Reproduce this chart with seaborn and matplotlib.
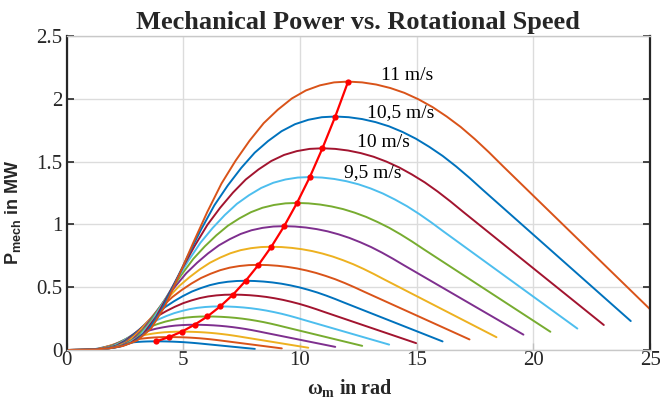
import numpy as np
import pandas as pd
import matplotlib
matplotlib.use("Agg")
import matplotlib.pyplot as plt
import seaborn as sns

# ---- data ----
wind_speeds = [3.5, 4.0, 4.5, 5.0, 5.5, 6.0, 6.5, 7.0, 7.5, 8.0, 8.5, 9.0, 9.5, 10.0, 10.5, 11.0]
peak_omega = [3.84, 4.39, 4.93, 5.48, 6.03, 6.58, 7.13, 7.67, 8.22, 8.77, 9.32, 9.87, 10.42, 10.96, 11.51, 12.06]
peak_power = [0.069, 0.103, 0.146, 0.201, 0.267, 0.347, 0.441, 0.551, 0.678, 0.822, 0.986, 1.171, 1.377, 1.606, 1.859, 2.137]

# common curve shape (omega / omega_peak , P / P_peak)
shape_ratio = [0.00, 0.10, 0.15, 0.20, 0.25, 0.30, 0.35, 0.40, 0.45, 0.50, 0.55, 0.60, 0.65, 0.70,
               0.75, 0.80, 0.85, 0.90, 0.95, 1.00, 1.05, 1.10, 1.15, 1.20, 1.25, 1.30, 1.35, 1.40,
               1.45, 1.50, 1.55, 1.60, 1.65, 1.70, 1.75, 1.80, 1.85, 1.90, 1.95, 2.00, 2.05, 2.10]
shape_frac = [0.000, 0.002, 0.006, 0.015, 0.035, 0.080, 0.165, 0.280, 0.400, 0.515, 0.620, 0.705, 0.780, 0.845,
              0.895, 0.937, 0.967, 0.986, 0.997, 1.000, 0.997, 0.989, 0.976, 0.958, 0.934, 0.905, 0.870, 0.831,
              0.786, 0.737, 0.685, 0.634, 0.583, 0.532, 0.481, 0.430, 0.379, 0.328, 0.277, 0.226, 0.175, 0.124]

colors = ["#0072BD", "#D95319", "#EDB120", "#7E2F8E", "#77AC30", "#4DBEEE", "#A2142F",
          "#0072BD", "#D95319", "#EDB120", "#7E2F8E", "#77AC30", "#4DBEEE", "#A2142F",
          "#0072BD", "#D95319"]

x_ticks = [0, 5, 10, 15, 20, 25]
y_ticks = [0, 0.5, 1, 1.5, 2, 2.5]
y_tick_labels = ["0", "0.5", "1", "1.5", "2", "2.5"]
curve_labels = ["11 m/s", "10,5 m/s", "10 m/s", "9,5 m/s"]

# ---- build long table ----
rows = []
for v, wp, pp in zip(wind_speeds, peak_omega, peak_power):
    for r, f in zip(shape_ratio, shape_frac):
        rows.append({"speed": v, "omega": wp * r, "power": pp * f})
df = pd.DataFrame(rows)

sns.set_theme(style="white")
plt.rcParams["font.family"] = ["Liberation Serif", "DejaVu Serif"]
plt.rcParams["mathtext.fontset"] = "custom"
plt.rcParams["mathtext.rm"] = "Liberation Serif"
plt.rcParams["mathtext.bf"] = "Liberation Serif:bold"
plt.rcParams["mathtext.sf"] = "Liberation Sans:bold"

fig = plt.figure(figsize=(6.6, 3.99), dpi=100)
ax = fig.add_axes([0.101, 0.1228, 0.884, 0.787])

sns.lineplot(data=df, x="omega", y="power", hue="speed", palette=colors,
             estimator=None, sort=False, legend=False, linewidth=1.4, ax=ax)

sns.lineplot(x=peak_omega, y=peak_power, color="#FF0000", linewidth=1.6,
             marker="o", markersize=4.5, markeredgewidth=0, sort=False, ax=ax)

ax.set_xlim(0, 25)
ax.set_ylim(0, 2.5)
ax.set_xticks(x_ticks)
ax.set_xticklabels([str(t) for t in x_ticks])
ax.set_yticks(y_ticks)
ax.set_yticklabels(y_tick_labels)

ax.grid(True, color="#DCDCDC", linewidth=1.0)
ax.set_axisbelow(True)

for side in ["left", "right"]:
    ax.spines[side].set_color("#262626")
    ax.spines[side].set_linewidth(1.6)
for side in ["top", "bottom"]:
    ax.spines[side].set_color("#C8C8C8")
    ax.spines[side].set_linewidth(1.0)

ax.tick_params(axis="y", direction="in", length=5, width=1.2, color="#262626",
               left=True, right=True, labelsize=15, labelcolor="#262626", pad=3)
ax.tick_params(axis="x", direction="in", length=5, width=1.0, color="#C0C0C0",
               bottom=True, labelsize=15, labelcolor="#262626", pad=1)

ax.set_title("Mechanical Power vs. Rotational Speed", fontsize=19, fontweight="bold",
             family="Liberation Serif", pad=5)
ax.set_xlabel(r"$\mathbf{\omega_m}$ in rad", fontsize=14.5, fontweight="bold",
              family="Liberation Serif", labelpad=1)
ax.set_ylabel(r"$\mathsf{P_{mech}}$ in MW", fontsize=13, fontweight="bold",
              family="Liberation Sans")
ax.yaxis.set_label_coords(-0.074, 0.44)
ax.xaxis.set_label_coords(0.486, -0.085)

label_xy = [(13.45, 2.185), (12.86, 1.89), (12.43, 1.65), (11.89, 1.41)]
for txt, (x, y) in zip(curve_labels, label_xy):
    ax.text(x, y, txt, fontsize=14, va="center", ha="left", color="black",
            family="Liberation Serif")

fig.savefig("out.png", dpi=100)
